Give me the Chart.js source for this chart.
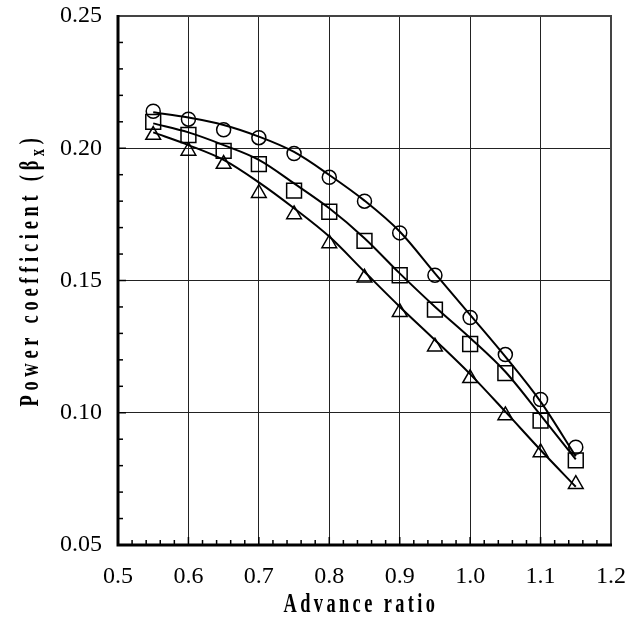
<!DOCTYPE html>
<html>
<head>
<meta charset="utf-8">
<script src="https://cdn.jsdelivr.net/npm/chart.js@4/dist/chart.umd.min.js"></script>
<style>
  body { margin: 0; background: #fff; }
  canvas { display: block; }
</style>
</head>
<body>
<canvas id="powerChart" width="635" height="618"></canvas>
<script>
// advance ratio values and the three measured series (markers)
const advanceRatio = [0.55, 0.60, 0.65, 0.70, 0.75, 0.80, 0.85, 0.90, 0.95, 1.00, 1.05, 1.10, 1.15];
const circleSeries   = [0.214, 0.211, 0.207, 0.204, 0.198, 0.189, 0.180, 0.168, 0.152, 0.136, 0.122, 0.105, 0.087];
const squareSeries   = [0.210, 0.205, 0.199, 0.194, 0.184, 0.176, 0.165, 0.152, 0.139, 0.126, 0.115, 0.097, 0.082];
const triangleSeries = [0.205, 0.199, 0.194, 0.183, 0.175, 0.164, 0.151, 0.138, 0.125, 0.113, 0.099, 0.085, 0.073];

// fitted curves at the same advance ratios
const circleFit   = [0.2136, 0.2116, 0.2088, 0.2044, 0.1986, 0.1899, 0.1802, 0.1685, 0.1527, 0.1370, 0.1212, 0.1042, 0.0835];
const squareFit   = [0.2094, 0.2060, 0.2012, 0.1956, 0.1867, 0.1773, 0.1660, 0.1527, 0.1401, 0.1283, 0.1155, 0.0991, 0.0824];
const triangleFit = [0.2060, 0.2012, 0.1956, 0.1871, 0.1773, 0.1666, 0.1533, 0.1401, 0.1275, 0.1146, 0.1004, 0.0859, 0.0720];

// tick labels
const xTickLabels = ['0.5', '0.6', '0.7', '0.8', '0.9', '1.0', '1.1', '1.2'];
const yTickLabels = ['0.05', '0.10', '0.15', '0.20', '0.25'];

const xTitle = 'Advance ratio';
const yTitle = 'Power coefficient (\u03B2';
const yTitleSub = 'x';

const SERIF = '"Liberation Serif", "Times New Roman", serif';

function findLabel(labels, v) {
  const hit = labels.find(l => Math.abs(parseFloat(l) - v) < 1e-6);
  return hit === undefined ? null : hit;
}

function toPoints(ys) {
  return advanceRatio.map((x, i) => ({ x: x, y: ys[i] }));
}

function markerSet(ys, style, radius) {
  return {
    data: toPoints(ys),
    showLine: false,
    pointStyle: style,
    pointRadius: radius,
    pointBorderWidth: 1.5,
    pointBorderColor: '#000',
    pointBackgroundColor: 'rgba(0,0,0,0)'
  };
}

function fitSet(ys) {
  return {
    data: toPoints(ys),
    showLine: true,
    borderColor: '#000',
    borderWidth: 2,
    pointRadius: 0,
    cubicInterpolationMode: 'monotone',
    fill: false
  };
}

// axes frame, inside tick marks and the axis titles
const framePlugin = {
  id: 'frame',
  afterDraw(chart) {
    const c = chart.ctx;
    const a = chart.chartArea;
    const xs = chart.scales.x, ys = chart.scales.y;
    c.save();
    c.strokeStyle = '#000';

    // minor / major ticks pointing inward
    c.lineWidth = 1.5;
    ys.ticks.forEach(t => {
      const py = ys.getPixelForValue(t.value);
      const len = findLabel(yTickLabels, t.value) ? 8 : 5;
      c.beginPath(); c.moveTo(a.left, py); c.lineTo(a.left + len, py); c.stroke();
    });
    xs.ticks.forEach(t => {
      const px = xs.getPixelForValue(t.value);
      const len = findLabel(xTickLabels, t.value) ? 8 : 5;
      c.beginPath(); c.moveTo(px, a.bottom); c.lineTo(px, a.bottom - len); c.stroke();
    });

    // thin top / right border
    c.strokeStyle = '#444';
    c.lineWidth = 2;
    c.beginPath();
    c.moveTo(a.left, a.top); c.lineTo(a.right, a.top); c.lineTo(a.right, a.bottom);
    c.stroke();

    // thick left / bottom axis
    c.strokeStyle = '#000';
    c.lineWidth = 3;
    c.beginPath();
    c.moveTo(a.left, a.top - 1); c.lineTo(a.left, a.bottom); c.lineTo(a.right + 1, a.bottom);
    c.stroke();

    // x title (condensed bold serif)
    c.fillStyle = '#000';
    c.font = 'bold 27px ' + SERIF;
    c.letterSpacing = '5px';
    c.textAlign = 'center';
    c.textBaseline = 'alphabetic';
    c.save();
    c.translate(361, 612);
    c.scale(0.68, 1);
    c.fillText(xTitle, 0, 0);
    c.restore();

    // y title, rotated, with subscript
    c.save();
    c.translate(38, 270);
    c.rotate(-Math.PI / 2);
    c.scale(0.68, 1);
    c.textAlign = 'left';
    c.letterSpacing = '7px';
    c.font = 'bold 27px ' + SERIF;
    const mainW = c.measureText(yTitle).width;
    c.font = 'bold 20px ' + SERIF;
    const subW = c.measureText(yTitleSub).width;
    c.font = 'bold 27px ' + SERIF;
    const closeW = c.measureText(')').width;
    let px = -(mainW + subW + closeW) / 2;
    c.fillText(yTitle, px, 0);
    px += mainW;
    c.font = 'bold 20px ' + SERIF;
    c.fillText(yTitleSub, px, 6);
    px += subW;
    c.font = 'bold 27px ' + SERIF;
    c.fillText(')', px, 0);
    c.restore();

    c.restore();
  }
};

function drawChart() {
  const ctx = document.getElementById('powerChart').getContext('2d');
  return new Chart(ctx, {
    type: 'scatter',
    data: {
      datasets: [
        fitSet(circleFit),
        fitSet(squareFit),
        fitSet(triangleFit),
        markerSet(circleSeries, 'circle', 7),
        markerSet(squareSeries, 'rect', 10.5),
        markerSet(triangleSeries, 'triangle', 8.5)
      ]
    },
    options: {
      responsive: false,
      animation: false,
      layout: { padding: { left: 0, top: 16, right: 24, bottom: 0 } },
      plugins: {
        legend: { display: false },
        tooltip: { enabled: false }
      },
      scales: {
        x: {
          type: 'linear',
          min: 0.5,
          max: 1.2,
          afterFit: s => { s.height = 73; s.paddingLeft = 0; s.paddingRight = 0; },
          border: { display: false },
          grid: {
            drawTicks: false,
            lineWidth: 1,
            color: c => findLabel(xTickLabels, c.tick.value) ? '#222' : 'rgba(0,0,0,0)'
          },
          ticks: {
            stepSize: 0.02,
            autoSkip: false,
            maxRotation: 0,
            padding: 17,
            color: '#000',
            font: { family: SERIF, size: 24 },
            callback: v => findLabel(xTickLabels, v) || ''
          }
        },
        y: {
          type: 'linear',
          min: 0.05,
          max: 0.25,
          afterFit: s => { s.width = 118; s.paddingTop = 0; s.paddingBottom = 0; },
          border: { display: false },
          grid: {
            drawTicks: false,
            lineWidth: 1,
            color: c => findLabel(yTickLabels, c.tick.value) ? '#222' : 'rgba(0,0,0,0)'
          },
          ticks: {
            stepSize: 0.01,
            autoSkip: false,
            padding: 16,
            color: '#000',
            font: { family: SERIF, size: 24 },
            callback: v => findLabel(yTickLabels, v) || ''
          }
        }
      }
    },
    plugins: [framePlugin]
  });
}

// make sure the serif face is ready before the canvas draws text
Promise.all([
  document.fonts.load('24px "Liberation Serif"'),
  document.fonts.load('bold 27px "Liberation Serif"')
]).then(drawChart, drawChart);
</script>
</body>
</html>
